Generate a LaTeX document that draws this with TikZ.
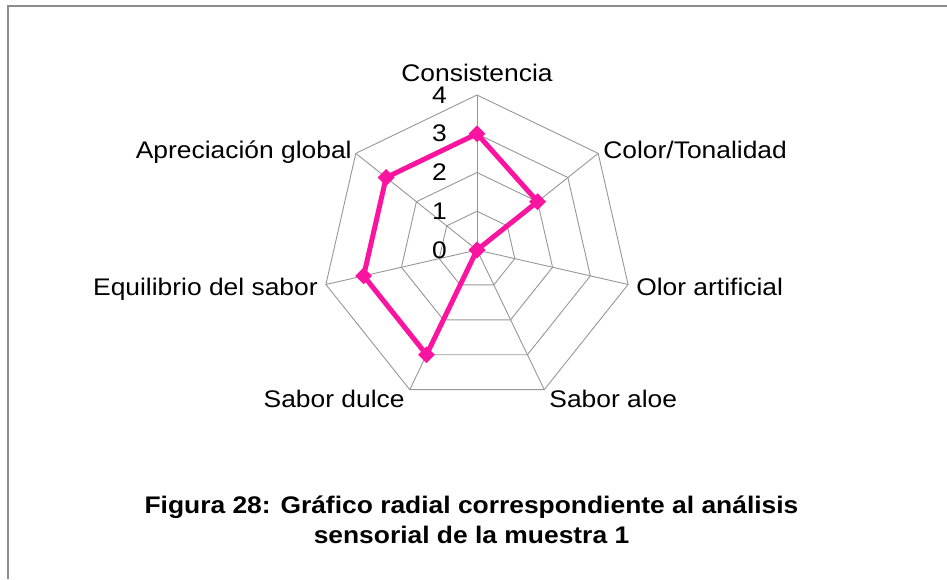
\documentclass[tikz,border=0pt]{standalone}
\usepackage{fontspec}
\setmainfont{Liberation Sans}[FakeStretch=1.1]
\usepackage{xcolor}
\usepackage{tikz}
\usetikzlibrary{shapes.geometric}
\definecolor{seriespink}{RGB}{250,20,160}
\definecolor{gridgray}{RGB}{150,150,150}
\definecolor{framegray}{RGB}{140,140,140}
\tikzset{
    frame line/.style={draw=framegray, line width=2pt},
    grid line/.style={draw=gridgray, line width=0.9pt},
    series line/.style={draw=seriespink, line width=5pt, line join=round},
    marker/.style={diamond, fill=seriespink, inner sep=0pt, minimum size=17pt},
    axis label/.style={font=\fontsize{24}{28}\selectfont, inner sep=0pt},
    tick label/.style={font=\fontsize{24}{28}\selectfont, inner sep=0pt, anchor=base east},
    caption/.style={font=\fontsize{24}{28}\selectfont\bfseries, inner sep=0pt, anchor=base}
}

\begin{document}
\begin{tikzpicture}[x=1pt,y=1pt]
                \useasboundingbox (-477,-329) rectangle (470,250);
                \draw[frame line] (-469,-329) -- (-469,244) -- (470,244);

                \coordinate (O) at (0,0);
                \foreach \i in {0,...,6} {
                    \coordinate (A\i) at ({90-\i*360/7}:155);
                    \draw[grid line] (O) -- (A\i);
                }
                \foreach \r in {1,...,4}
                    \draw[grid line] (90:{\r*38.75}) \foreach \i in {1,...,6} {-- ({90-\i*360/7}:{\r*38.75})} -- cycle;

                \foreach \k in {0,...,4}
                    \node[tick label] (T\k) at (-30,{\k*38.75-8}) {\k};

                \node[axis label, anchor=base] (cons) at ([yshift=14pt]A0) {Consistencia};
                \node[axis label, anchor=base west] (color) at ([xshift=5pt, yshift=-5pt]A1) {Color/Tonalidad};
                \node[axis label, anchor=base west] (olor) at ([xshift=8pt, yshift=-11pt]A2) {Olor artificial};
                \node[axis label, anchor=base west] (aloe) at ([xshift=5pt, yshift=-18pt]A3) {Sabor aloe};
                \node[axis label, anchor=base east] (dulce) at ([xshift=-5pt, yshift=-18pt]A4) {Sabor dulce};
                \node[axis label, anchor=base east] (equil) at ([xshift=-8pt, yshift=-11pt]A5) {Equilibrio del sabor};
                \node[axis label, anchor=base east] (aprec) at ([xshift=-4pt, yshift=-5pt]A6) {Apreciación global};

                \foreach \i/\v in {0/3,1/2,2/0,3/0,4/3,5/3,6/3}
                    \coordinate (P\i) at ({90-\i*360/7}:{\v*38.75});
                \draw[series line] (P0) -- (P1) -- (P2) -- (P3) -- (P4) -- (P5) -- (P6) -- cycle;
                \foreach \i in {0,...,6}
                    \node[marker] (M\i) at (P\i) {};

                \node[caption] (cap1) at (-5.5,-263) {Figura 28: Gráfico radial correspondiente al análisis};
                \node[caption] (cap2) at (-5.5,-293) {sensorial de la muestra 1};
            \end{tikzpicture}
\end{document}
